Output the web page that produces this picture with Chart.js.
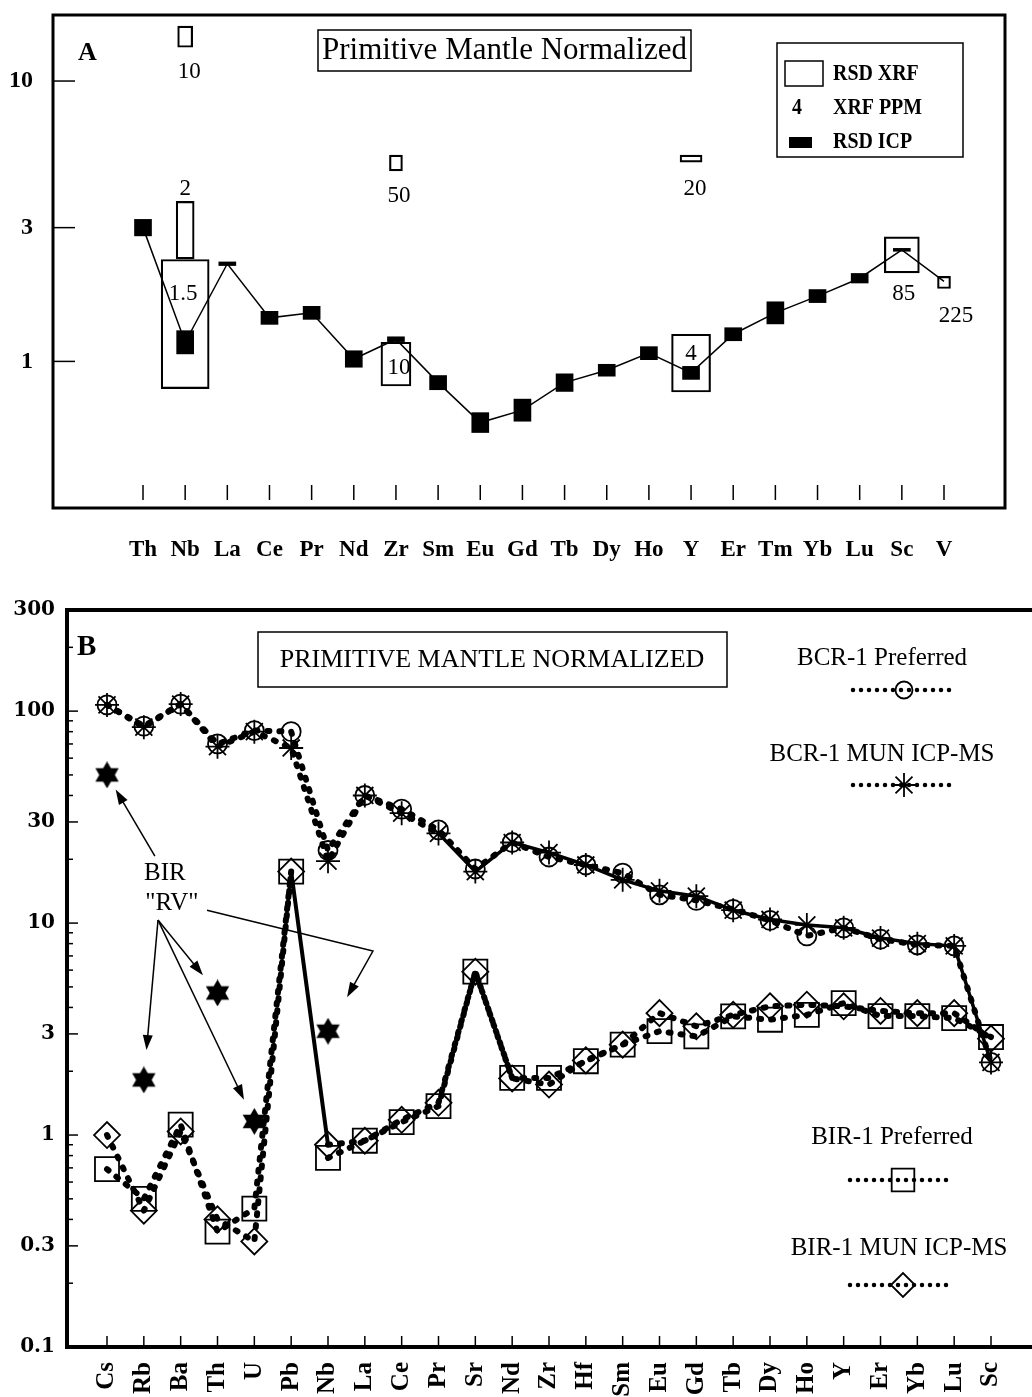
<!DOCTYPE html>
<html>
<head>
<meta charset="utf-8">
<title>Primitive mantle normalized diagrams</title>
<script src="https://cdn.jsdelivr.net/npm/chart.js@4.4.1/dist/chart.umd.min.js"></script>
<style>
  html, body { margin: 0; padding: 0; background: #fff; width: 1032px; height: 1397px; overflow: hidden; }
  #wrapA { position: absolute; left: 0; top: 0; width: 1032px; height: 580px; }
  #wrapB { position: absolute; left: 0; top: 590px; width: 1032px; height: 807px; }
  canvas { display: block; }
</style>
</head>
<body>
<div id="wrapA"><canvas id="chartA" width="1032" height="580"></canvas></div>
<div id="wrapB"><canvas id="chartB" width="1032" height="807"></canvas></div>
<script>
// ---------------- Panel A: BIR-1, ICP precision vs XRF ----------------
const elementsA = ['Th','Nb','La','Ce','Pr','Nd','Zr','Sm','Eu','Gd','Tb','Dy','Ho','Y','Er','Tm','Yb','Lu','Sc','V'];
// ICP values normalised to primitive mantle
const icpNormA = [3.0, 1.17, 2.23, 1.43, 1.49, 1.02, 1.2, 0.84, 0.605, 0.67, 0.84, 0.93, 1.07, 0.91, 1.25, 1.49, 1.71, 1.98, 2.5, 1.93];
// relative standard deviation of ICP results (%)
const icpRsdA = [7, 10, 1.5, 5.5, 5.5, 7, 2, 6, 8.5, 9.5, 7.5, 5, 5.5, 5.5, 5.5, 9.5, 5.5, 4, 1.2, null];
// XRF RSD ranges (normalised) at the quoted concentrations (ppm)
const xrfElementA = ['Nb', 'Nb', 'Nb', 'Zr', 'Zr', 'Y', 'Y', 'Sc', 'V'];
const xrfPpmA = ['10', '2', '1.5', '50', '10', '20', '4', '85', '225'];
const xrfLowA = [13.2, 2.32, 0.80, 4.78, 0.817, 5.14, 0.778, 2.07, 1.82];
const xrfHighA = [15.7, 3.72, 2.31, 5.44, 1.17, 5.44, 1.25, 2.78, 2.01];
const yTicksA = [1, 3, 10];

// ---------------- Panel B: BCR-1 and BIR-1 ----------------
const elementsB = ['Cs','Rb','Ba','Th','U','Pb','Nb','La','Ce','Pr','Sr','Nd','Zr','Hf','Sm','Eu','Gd','Tb','Dy','Ho','Y','Er','Yb','Lu','Sc'];
const bcrPreferred = [107, 85, 108, 70, 81, 80, 22, 40, 34.5, 27.5, 18, 24, 20.5, 18.8, 17.2, 13.6, 12.8, 11.6, 10.3, 8.7, 9.5, 8.4, 7.9, 7.8, 2.2];
const bcrMun = [107, 84, 108, 68, 80, 67, 19.6, 40, 33, 26.5, 17.5, 24, 21.5, 18.8, 16, 14.2, 13.4, 11.5, 10.4, 9.8, 9.5, 8.5, 8.0, 7.8, 2.2];
const birPreferred = [0.69, 0.50, 1.12, 0.35, 0.45, 17.5, 0.78, 0.94, 1.15, 1.37, 5.9, 1.86, 1.86, 2.23, 2.67, 3.09, 2.92, 3.63, 3.50, 3.69, 4.19, 3.64, 3.64, 3.56, 2.9];
const birMun = [1.0, 0.44, 1.04, 0.40, 0.315, 17.5, 0.9, 0.94, 1.18, 1.42, 5.9, 1.85, 1.73, 2.25, 2.67, 3.76, 3.26, 3.69, 4.05, 4.12, 4.05, 3.85, 3.76, 3.76, 2.85];
const birRv = [50, 1.82, null, 4.68, 1.16, null, 3.09, null, null, null, null, null, null, null, null, null, null, null, null, null, null, null, null, null, null];
const yTicksB = [0.1, 0.3, 1, 3, 10, 30, 100, 300];

// ---------------- layout / style ----------------
const SERIF = "'Liberation Serif', 'Times New Roman', serif";
const xrfBoxWidth = [15, 18, 48, 13, 30, 22, 39, 35, 13];
const xrfLabelOffset = [[4, 35], [0, -41], [-2, -30], [3, 33], [3, 4], [4, 30], [0, -9], [2, 39], [12, 34]];
// annotation anchors for the BIR "RV" callout, in data units (category index, value)
const rvText = [{ t: 'BIR', x: 1.57, y: 17.2 }, { t: '"RV"', x: 1.76, y: 12.4 }];
const rvArrows = [
  { path: [[1.30, 20.7]], to: 'Cs', gap: 17 },
  { path: [[1.385, 10.33]], to: 'Th', gap: 23 },
  { path: [[1.385, 10.33]], to: 'Rb', gap: 30 },
  { path: [[1.385, 10.33]], to: 'U', gap: 24 },
  { path: [[2.715, 11.5], [7.22, 7.38]], to: 'Nb', gap: 39 }
];

function txt(ctx, s, x, y, font, align = 'center', sx = 1) {
  ctx.save();
  ctx.font = font; ctx.textAlign = align; ctx.textBaseline = 'middle'; ctx.fillStyle = '#000';
  ctx.translate(x, y); ctx.scale(sx, 1); ctx.fillText(s, 0, 0);
  ctx.restore();
}
function seg(ctx, x1, y1, x2, y2) { ctx.beginPath(); ctx.moveTo(x1, y1); ctx.lineTo(x2, y2); ctx.stroke(); }
// keep the plot area exactly where the layout padding puts it
function noPadY(s, w) { s.width = w; s.paddingTop = 0; s.paddingBottom = 0; }
function noPadX(s, h) { s.height = h; s.paddingLeft = 0; s.paddingRight = 0; }

function hexagram(size) {
  const c = document.createElement('canvas');
  c.width = size; c.height = size;
  const g = c.getContext('2d');
  const r = size / 2;
  g.fillStyle = '#000';
  for (const off of [-Math.PI / 2, Math.PI / 2]) {
    g.beginPath();
    for (let k = 0; k < 3; k++) {
      const a = off + k * 2 * Math.PI / 3;
      g.lineTo(r + r * Math.cos(a), r + r * Math.sin(a));
    }
    g.closePath(); g.fill();
  }
  return c;
}

// ---------------- Panel A chart ----------------
const icpBars = icpNormA.map((v, i) => icpRsdA[i] == null ? { x: i, y: null }
  : { x: i, y: [v / (1 + icpRsdA[i] / 100), v * (1 + icpRsdA[i] / 100)] });

const xrfDatasets = xrfElementA.map((el, k) => ({
  type: 'bar',
  label: 'RSD XRF ' + el + ' ' + xrfPpmA[k],
  data: [{ x: elementsA.indexOf(el), y: [xrfLowA[k], xrfHighA[k]] }],
  backgroundColor: 'rgba(0,0,0,0)',
  borderColor: '#000',
  borderWidth: 1.5,
  borderSkipped: false,
  barThickness: xrfBoxWidth[k],
  grouped: false
}));

const panelADecor = {
  id: 'panelADecor',
  afterDatasetsDraw(chart) {
    const { ctx, scales: { x, y } } = chart;
    // ppm labels beside each XRF box
    xrfElementA.forEach((el, k) => {
      const cx = x.getPixelForValue(elementsA.indexOf(el));
      const cy = (y.getPixelForValue(xrfLowA[k]) + y.getPixelForValue(xrfHighA[k])) / 2;
      txt(ctx, xrfPpmA[k], cx + xrfLabelOffset[k][0], cy + xrfLabelOffset[k][1], '23px ' + SERIF);
    });
  },
  afterDraw(chart) {
    const { ctx, chartArea: a, scales: { x, y } } = chart;
    ctx.save();
    ctx.strokeStyle = '#000';
    ctx.lineWidth = 3;
    ctx.strokeRect(a.left, a.top, a.right - a.left, a.bottom - a.top);
    ctx.lineWidth = 1.5;
    elementsA.forEach((_, i) => { const px = x.getPixelForValue(i); seg(ctx, px, a.bottom - 23, px, a.bottom - 8); });
    yTicksA.forEach(v => { const py = y.getPixelForValue(v); seg(ctx, a.left, py, a.left + 22, py); });
    // panel letter and title
    txt(ctx, 'A', 78, 53, 'bold 26px ' + SERIF, 'left');
    ctx.lineWidth = 1.5;
    ctx.strokeRect(318, 30, 373, 41);
    txt(ctx, 'Primitive Mantle Normalized', 504.5, 51, '31px ' + SERIF);
    // key
    ctx.strokeRect(777, 43, 186, 114);
    ctx.strokeRect(785, 61, 38, 25);
    txt(ctx, 'RSD XRF', 833, 74, 'bold 24px ' + SERIF, 'left', 0.83);
    txt(ctx, '4', 797, 108, 'bold 24px ' + SERIF, 'center', 0.83);
    txt(ctx, 'XRF PPM', 833, 108, 'bold 24px ' + SERIF, 'left', 0.83);
    ctx.fillStyle = '#000';
    ctx.fillRect(789, 137, 23, 11);
    txt(ctx, 'RSD ICP', 833, 142, 'bold 24px ' + SERIF, 'left', 0.83);
    ctx.restore();
  }
};

new Chart(document.getElementById('chartA'), {
  type: 'line',
  data: {
    datasets: [
      {
        type: 'line', label: 'ICP',
        data: icpNormA.map((v, i) => ({ x: i, y: v })),
        borderColor: '#000', borderWidth: 1.5, pointRadius: 0, tension: 0, fill: false
      },
      {
        type: 'bar', label: 'RSD ICP',
        data: icpBars,
        backgroundColor: '#000', borderWidth: 0, barThickness: 17, grouped: false
      },
      ...xrfDatasets
    ]
  },
  options: {
    responsive: false, animation: false, events: [], devicePixelRatio: 1,
    layout: { autoPadding: false, padding: { top: 15, right: 27, left: 0, bottom: 0 } },
    plugins: { legend: { display: false }, tooltip: { enabled: false } },
    scales: {
      x: {
        type: 'linear', min: -2.135, max: 20.447, offset: false,
        grid: { display: false, drawTicks: false }, border: { display: false },
        afterBuildTicks: s => { s.ticks = elementsA.map((_, i) => ({ value: i })); },
        afterFit: s => noPadX(s, 72),
        ticks: { autoSkip: false, maxRotation: 0, minRotation: 0, padding: 28, color: '#000',
          font: { family: SERIF, size: 23, weight: 'bold' }, callback: v => elementsA[v] }
      },
      y: {
        type: 'logarithmic', min: 0.316, max: 17.2,
        grid: { display: false, drawTicks: false }, border: { display: false },
        afterBuildTicks: s => { s.ticks = yTicksA.map(v => ({ value: v })); },
        afterFit: s => noPadY(s, 53),
        ticks: { padding: 20, color: '#000', font: { family: SERIF, size: 24, weight: 'bold' }, callback: v => String(v) }
      }
    }
  },
  plugins: [panelADecor]
});

// ---------------- Panel B chart ----------------
const starImg = hexagram(27);
const xy = arr => arr.map((v, i) => ({ x: i, y: v }));
const dotted = {
  borderColor: '#000', borderWidth: 6, borderDash: [2, 10], borderCapStyle: 'round',
  borderJoinStyle: 'round', tension: 0, fill: false,
  pointBorderColor: '#000', pointBackgroundColor: 'rgba(0,0,0,0)', pointBorderWidth: 1.8
};

function drawMarker(ctx, style, cx, cy, r) {
  ctx.save();
  ctx.strokeStyle = '#000'; ctx.lineWidth = 1.8;
  ctx.beginPath();
  if (style === 'circle') {
    ctx.arc(cx, cy, r, 0, Math.PI * 2);
  } else if (style === 'rect') {
    const s = r * Math.SQRT1_2; ctx.rect(cx - s, cy - s, 2 * s, 2 * s);
  } else if (style === 'rectRot') {
    ctx.moveTo(cx - r, cy); ctx.lineTo(cx, cy - r); ctx.lineTo(cx + r, cy); ctx.lineTo(cx, cy + r); ctx.closePath();
  } else if (style === 'star') {
    for (let k = 0; k < 4; k++) {
      const a = k * Math.PI / 4;
      ctx.moveTo(cx - r * Math.cos(a), cy - r * Math.sin(a));
      ctx.lineTo(cx + r * Math.cos(a), cy + r * Math.sin(a));
    }
  }
  ctx.stroke();
  ctx.restore();
}

function drawKey(ctx, label, tx, ty, style, r, sy, x1, x2, mx) {
  txt(ctx, label, tx, ty, '25px ' + SERIF);
  ctx.save();
  ctx.strokeStyle = '#000'; ctx.lineWidth = 4.5; ctx.lineCap = 'round';
  ctx.setLineDash([0, 8]);
  seg(ctx, x1, sy, x2, sy);
  ctx.restore();
  drawMarker(ctx, style, mx, sy, r);
}

const panelBDecor = {
  id: 'panelBDecor',
  afterDraw(chart) {
    const { ctx, chartArea: a, scales: { x, y } } = chart;
    ctx.save();
    ctx.strokeStyle = '#000'; ctx.fillStyle = '#000';
    // axes frame (left, top, bottom)
    ctx.lineWidth = 4;
    ctx.beginPath();
    ctx.moveTo(a.right + 4, a.top); ctx.lineTo(a.left, a.top); ctx.lineTo(a.left, a.bottom); ctx.lineTo(a.right + 4, a.bottom);
    ctx.stroke();
    // inner tick marks
    ctx.lineWidth = 1.5;
    for (let d = -1; d <= 2; d++) {
      for (let k = 1; k <= 9; k++) {
        const v = k * Math.pow(10, d);
        if (v < 0.0999 || v > 300.01) continue;
        const major = yTicksB.some(t => Math.abs(t - v) < 1e-6 * t);
        const py = y.getPixelForValue(v);
        seg(ctx, a.left, py, a.left + (major ? 11 : 6), py);
      }
    }
    elementsB.forEach((_, i) => { const px = x.getPixelForValue(i); seg(ctx, px, a.bottom - 11, px, a.bottom); });

    // panel letter and title
    txt(ctx, 'B', 77, 58, 'bold 29px ' + SERIF, 'left');
    ctx.lineWidth = 1.5;
    ctx.strokeRect(258, 42, 469, 55);
    txt(ctx, 'PRIMITIVE MANTLE NORMALIZED', 492, 70, '26px ' + SERIF);

    // keys
    drawKey(ctx, 'BCR-1 Preferred', 882, 68, 'circle', 8.5, 100, 853, 957, 904);
    drawKey(ctx, 'BCR-1 MUN ICP-MS', 882, 164, 'star', 12, 195, 853, 957, 904);
    drawKey(ctx, 'BIR-1 Preferred', 892, 547, 'rect', 16, 590, 850, 953, 903);
    drawKey(ctx, 'BIR-1 MUN ICP-MS', 899, 658, 'rectRot', 12, 695, 850, 953, 903);

    // BIR "RV" callout
    rvText.forEach(t => txt(ctx, t.t, x.getPixelForValue(t.x), y.getPixelForValue(t.y), '25px ' + SERIF));
    ctx.lineWidth = 1.5;
    rvArrows.forEach(ar => {
      const pts = ar.path.map(p => [x.getPixelForValue(p[0]), y.getPixelForValue(p[1])]);
      const idx = elementsB.indexOf(ar.to);
      const sx = x.getPixelForValue(idx), sy = y.getPixelForValue(birRv[idx]);
      const [lx, ly] = pts[pts.length - 1];
      const dx = sx - lx, dy = sy - ly, len = Math.hypot(dx, dy);
      const ux = dx / len, uy = dy / len;
      const tx = sx - ux * ar.gap, ty = sy - uy * ar.gap;
      ctx.beginPath();
      ctx.moveTo(pts[0][0], pts[0][1]);
      for (let k = 1; k < pts.length; k++) ctx.lineTo(pts[k][0], pts[k][1]);
      ctx.lineTo(tx - ux * 10, ty - uy * 10);
      ctx.stroke();
      // arrow head
      const hl = 15, hw = 5;
      ctx.beginPath();
      ctx.moveTo(tx, ty);
      ctx.lineTo(tx - ux * hl - uy * hw, ty - uy * hl + ux * hw);
      ctx.lineTo(tx - ux * hl + uy * hw, ty - uy * hl - ux * hw);
      ctx.closePath(); ctx.fill();
    });
    ctx.restore();
  }
};

new Chart(document.getElementById('chartB'), {
  type: 'line',
  data: {
    datasets: [
      { label: 'BCR-1 Preferred', data: xy(bcrPreferred), ...dotted, pointStyle: 'circle', pointRadius: 9.5 },
      { label: 'BCR-1 MUN ICP-MS', data: xy(bcrMun), ...dotted, pointStyle: 'star', pointRadius: 12,
        segment: {
          borderDash: c => c.p0DataIndex >= 9 ? [] : undefined,
          borderWidth: c => c.p0DataIndex >= 9 ? 3.5 : undefined
        } },
      { label: 'BIR-1 Preferred', data: xy(birPreferred), ...dotted, pointStyle: 'rect', pointRadius: 17,
        segment: { borderColor: c => c.p0DataIndex === 5 ? 'rgba(0,0,0,0)' : undefined } },
      { label: 'BIR-1 MUN ICP-MS', data: xy(birMun), ...dotted, pointStyle: 'rectRot', pointRadius: 13,
        segment: {
          borderDash: c => c.p0DataIndex === 5 ? [] : undefined,
          borderWidth: c => c.p0DataIndex === 5 ? 4 : undefined
        } },
      { label: 'BIR RV', data: xy(birRv), showLine: false, pointStyle: starImg, pointRadius: 13 }
    ]
  },
  options: {
    responsive: false, animation: false, events: [], devicePixelRatio: 1,
    layout: { autoPadding: false, padding: { top: 20, right: 0, left: 0, bottom: 0 } },
    plugins: { legend: { display: false }, tooltip: { enabled: false } },
    scales: {
      x: {
        type: 'linear', min: -1.086, max: 25.113, offset: false,
        grid: { display: false, drawTicks: false }, border: { display: false },
        afterBuildTicks: s => { s.ticks = elementsB.map((_, i) => ({ value: i })); },
        afterFit: s => noPadX(s, 50),
        ticks: { autoSkip: false, maxRotation: 90, minRotation: 90, padding: 15, color: '#000',
          font: { family: SERIF, size: 25, weight: 'bold' }, callback: v => elementsB[v] }
      },
      y: {
        type: 'logarithmic', min: 0.1, max: 300,
        grid: { display: false, drawTicks: false }, border: { display: false },
        afterBuildTicks: s => { s.ticks = yTicksB.map(v => ({ value: v })); },
        afterFit: s => noPadY(s, 67),
        ticks: { padding: 12, color: '#000', font: { family: "'DejaVu Serif', serif", size: 20, weight: 'bold' },
          callback: v => String(v) }
      }
    }
  },
  plugins: [panelBDecor]
});
</script>
</body>
</html>
